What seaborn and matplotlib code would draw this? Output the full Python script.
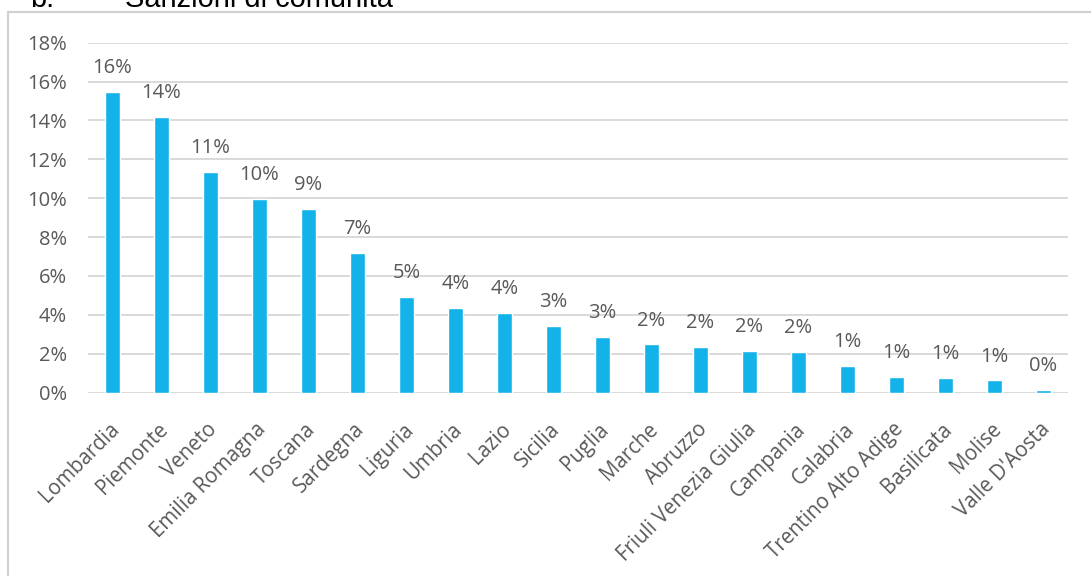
import matplotlib
matplotlib.use("Agg")
import matplotlib.pyplot as plt
import matplotlib.transforms as mtransforms
import seaborn as sns
import pandas as pd
from matplotlib.patches import Rectangle
from matplotlib.ticker import FuncFormatter, MultipleLocator

regions = ["Lombardia", "Piemonte", "Veneto", "Emilia Romagna", "Toscana", "Sardegna",
           "Liguria", "Umbria", "Lazio", "Sicilia", "Puglia", "Marche", "Abruzzo",
           "Friuli Venezia Giulia", "Campania", "Calabria", "Trentino Alto Adige",
           "Basilicata", "Molise", "Valle D'Aosta"]
shares = [15.48, 14.16, 11.33, 9.98, 9.45, 7.2, 4.93, 4.33, 4.08, 3.42, 2.88, 2.47, 2.35,
          2.15, 2.07, 1.35, 0.82, 0.77, 0.62, 0.12]
labels = ["16%", "14%", "11%", "10%", "9%", "7%", "5%", "4%", "4%", "3%", "3%", "2%", "2%",
          "2%", "2%", "1%", "1%", "1%", "1%", "0%"]
title_prefix = "b."
title_text = "Sanzioni di comunità"

sns.set_theme(style="white")
plt.rcParams['font.family'] = ['Open Sans', 'DejaVu Sans']

TXT = "#595959"
GRID = "#D9D9D9"
BAR = "#13B3EA"

fig = plt.figure(figsize=(10.91, 5.76), dpi=100)
ax = fig.add_axes([88/1091, 1-392.5/576, 980/1091, 349.8/576])

df = pd.DataFrame({"region": regions, "share": shares})
sns.barplot(data=df, x="region", y="share", color=BAR, width=0.31, ax=ax,
            saturation=1, zorder=3)

ax.set_ylim(0, 18)
ax.set_xlim(-0.5, len(regions) - 0.5)
ax.yaxis.set_major_locator(MultipleLocator(2))
ax.yaxis.set_major_formatter(FuncFormatter(lambda v, p: f"{int(round(v))}%"))
ax.grid(axis="y", color=GRID, linewidth=1.4, zorder=0)
ax.grid(axis="x", visible=False)
for s in ax.spines.values():
    s.set_visible(False)
ax.set_xlabel("")
ax.set_ylabel("")
ax.tick_params(axis="y", length=0, pad=15, labelsize=14.5, labelcolor=TXT)
ax.tick_params(axis="x", length=0, pad=19, labelsize=14.8, labelcolor=TXT)
offset = mtransforms.ScaledTranslation(-4/100, 0, fig.dpi_scale_trans)
for t in ax.get_xticklabels():
    t.set_rotation(45)
    t.set_ha("right")
    t.set_rotation_mode("anchor")
    t.set_transform(t.get_transform() + offset)

ax.bar_label(ax.containers[0], labels=labels, padding=10, fontsize=14.5, color=TXT)

# chart frame
fig.patches.append(Rectangle((8/1091, -0.1), 1.2, 1-12/576+0.1, transform=fig.transFigure,
                             fill=False, edgecolor="#D0D0D0", linewidth=1.5))
fig.text(30/1091, 1-7/576, title_prefix, fontsize=20.9, color="black",
         family=['Liberation Sans', 'DejaVu Sans'], va="baseline", ha="left")
fig.text(125/1091, 1-7/576, title_text, fontsize=20.9, color="black",
         family=['Liberation Sans', 'DejaVu Sans'], va="baseline", ha="left")

fig.savefig("out.png", dpi=100)
